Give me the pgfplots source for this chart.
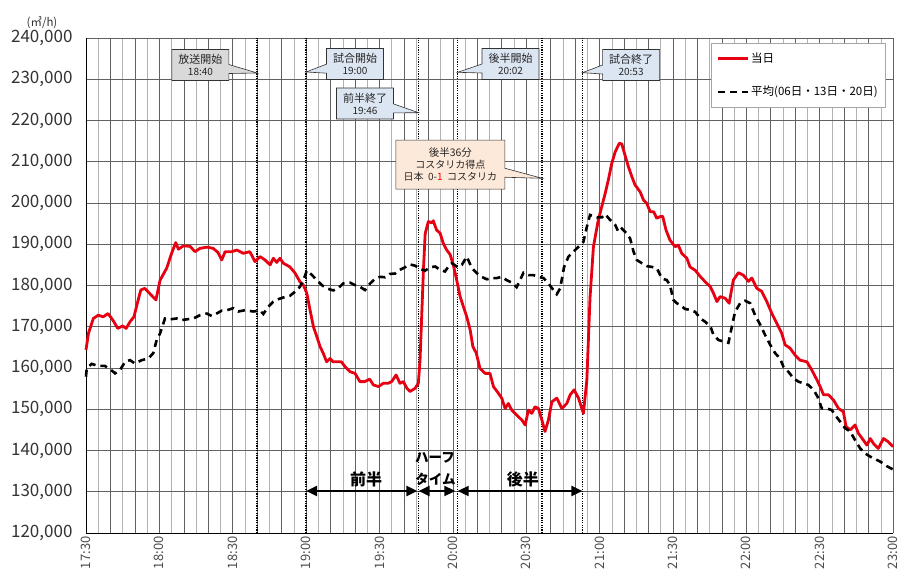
\documentclass[border=0pt]{standalone}
\usepackage{fontspec}
\setmainfont{Noto Sans CJK JP}
\usepackage{pgfplots}
\pgfplotsset{compat=1.18}
\usetikzlibrary{shapes.callouts,arrows.meta}
\definecolor{dred}{RGB}{230,0,18}
\definecolor{boxgray}{RGB}{217,217,217}
\definecolor{boxblue}{RGB}{220,230,242}
\definecolor{boxpeach}{RGB}{253,233,217}
\begin{document}
\begin{tikzpicture}
\begin{axis}[
  scale only axis, width=807pt, height=495pt,
  xmin=0, xmax=330, ymin=120000, ymax=240000,
  clip=false,
  axis x line=bottom, axis y line=left,
  axis line style={-, black, line width=0.8pt},
  xtick={0,10,...,330},
  xticklabels={17:30,,,18:00,,,18:30,,,19:00,,,19:30,,,20:00,,,20:30,,,21:00,,,21:30,,,22:00,,,22:30,,,23:00},
  minor x tick num=1,
  ytick={120000,130000,140000,150000,160000,170000,180000,190000,200000,210000,220000,230000,240000},
  major tick length=0pt, minor tick length=0pt,
  grid=both,
  major grid style={black!62, line width=0.5pt},
  minor grid style={black!30, line width=0.5pt},
  scaled y ticks=false,
  yticklabel style={font=\fontsize{17}{17}\selectfont, text=black!80, xshift=-10pt,
    /pgf/number format/.cd, fixed, 1000 sep={,}, assume math mode=true},
  xticklabel style={rotate=90, anchor=east, font=\fontsize{13}{13}\selectfont, text=black!70},
  extra x ticks={70,90,136,152,186.5,203},
  extra x tick labels={},
  extra x tick style={grid=major, major grid style={black, line width=1.4pt, dash pattern=on 1.2pt off 1.2pt}},
  legend style={at={(0.990,0.990)}, anchor=north east, draw=black!35, fill=white,
    font=\fontsize{11.5}{12}\selectfont, row sep=18pt, inner xsep=5pt, inner ysep=8pt,
    cells={anchor=west}},
  legend image code/.code={\draw[#1] (0pt,0pt) -- (30pt,0pt);},
]
\addplot[dred, line width=2.8pt, line join=round] coordinates {
(0,164400)(1,168400)(3,172000)(5,172800)(7,172400)(9,173200)(11,171600)(13,169600)(15,170200)(16.4,169600)
(18,171200)(19.6,172400)(21,175700)(22.4,178900)(24,179300)(26,178100)(28.6,176500)(30.3,181300)(33,184200)(35,187800)
(36.7,190400)(37.8,188800)(39.8,189600)(42.5,189500)(44.6,188200)(46.6,189000)(49.4,189300)(52,189000)(54,188000)(55.5,186200)
(56.9,188200)(59.6,188200)(61.7,188600)(64.3,187800)(67,188200)(69.1,185800)(71.2,187000)(73.2,186200)(75.3,185000)(76.6,186600)
(78,185600)(79.3,186600)(80.7,185400)(83.4,184500)(85.5,183000)(87.5,180900)(88.9,180100)(90.3,178100)(91.6,174100)(93,170000)
(94.4,167600)(95.7,165200)(97,163600)(98.4,161500)(99.8,162300)(101,161500)(103.1,161500)(104.4,161500)(106,160300)(108,159100)
(110,158700)(112,156700)(114,156700)(116,157300)(117.5,155900)(119.6,155500)(121.6,156300)(123.6,156300)(125,156700)(126.8,158300)
(128.4,156300)(129.8,156700)(131.2,155100)(132.5,154300)(134.6,155100)(135.9,156300)(136.6,161900)(137.3,173000)(138,184000)(138.7,192600)
(140,195500)(141.4,195200)(142,195700)(143.4,193400)(144.8,192700)(146.1,190200)(147.5,188600)(148.9,187500)(150.2,185000)(151.6,181300)
(153,177300)(154.3,174900)(155.7,172400)(157.1,169200)(158.2,165200)(159.6,163600)(161.1,159900)(163.2,158700)(165.2,158700)(166.6,155500)
(168.6,153900)(170,152700)(171.4,150200)(172.7,151400)(174.1,149800)(176.1,148600)(178.2,147400)(179.6,146200)(180.9,149800)(182.3,149000)
(183.6,150600)(185,150200)(186.4,147400)(187.7,144600)(189.1,147400)(190.5,151800)(192.5,152700)(194.6,150200)(196.6,151400)(198,153500)
(199.6,154700)(201.4,152700)(203.4,149000)(204.8,157000)(206.1,177000)(207.5,189400)(209.5,195900)(210.9,199100)(212.3,202300)(213.6,205600)
(215,209600)(216.4,212400)(218.1,214500)(219.1,214300)(220.4,211600)(221.8,208800)(223.2,206400)(224.5,204400)(226.6,202700)(228,200700)
(229.3,199900)(230.7,197900)(232.1,197900)(233.4,196300)(234.8,196700)(235.8,196800)(237.2,193400)(238.8,191000)(240.9,189400)(242.2,189800)
(243.6,187800)(245.7,186600)(247,184500)(249.1,183700)(251.3,182100)(253.2,180900)(255.3,179700)(256.6,178100)(258,176100)(259.3,177300)
(261.4,176900)(263,175700)(264.7,181300)(266.8,183100)(268.8,182500)(270.9,181000)(272.3,181800)(274.3,179300)(276.3,178600)(278.4,176100)
(280.4,173300)(282.4,170900)(284.5,168400)(285.9,165600)(287.9,164800)(290,163100)(292,161900)(294.8,161500)(296.8,159500)(298.9,157100)
(300.2,155500)(301.6,153500)(303.6,153500)(305.7,152200)(307.7,150200)(309.7,149400)(310.8,145800)(312.5,145000)(314.5,146200)(315.8,144200)
(317.9,142500)(319.3,141300)(320.7,142900)(322,141700)(324,140500)(326.1,142900)(328.1,142100)(330,140900)
};
\addlegendentry{当日}
\addplot[black, line width=2.6pt, dash pattern=on 7pt off 5pt] coordinates {
(0,157900)(0.3,159900)(2.3,161000)(5,160500)(7.7,160500)(9.7,159800)(11.9,158700)(13.9,159500)(16,161500)(18,161900)
(20,161100)(22.8,161900)(25.5,162300)(27.5,163600)(28.9,166800)(30.3,168400)(32.3,172000)(34.4,171800)(37.1,172000)(39.1,171600)
(41.2,171800)(43.9,172000)(46.6,172800)(49.4,173200)(51.4,172600)(53.4,173200)(55.5,173900)(57.6,174000)(60.2,174500)(62.3,173700)
(65,174000)(68.4,173700)(71.2,173900)(72.5,173100)(74.6,174900)(76.6,176100)(78.7,176700)(80.7,177100)(83.4,177500)(85.5,178500)
(87.5,179700)(88.9,181300)(90.3,183600)(92.3,182600)(94.4,181300)(96.4,180100)(98.4,179300)(101.1,178800)(103.1,179300)(105.2,180500)
(107.9,180700)(110,180100)(112,179700)(114.1,178900)(116.2,180500)(118.2,181600)(120.2,182100)(122.3,182000)(124.3,182800)(126.4,182900)
(128.4,183800)(130.4,184400)(132.5,185100)(134.6,184800)(136.6,184000)(138.7,183600)(140.7,184400)(142.8,184600)(144.8,183800)(146.8,183400)
(148.2,184600)(149.6,185400)(151.6,184600)(153.7,185000)(155.7,187000)(157.8,184200)(159.8,183000)(161.8,182100)(163.9,181500)(165.9,181800)
(168,181800)(170,182100)(172,181300)(174.1,180700)(176.1,179600)(177.5,181300)(178.9,183100)(180.9,182500)(183,182500)(185,182100)
(187.1,181800)(189.1,180500)(191.1,178900)(192.5,177900)(193.9,179300)(195.5,184500)(197.3,187000)(199.3,188200)(201.4,189400)(203.4,190600)
(204.8,194200)(206.1,197100)(208.9,196500)(210.9,196500)(212.3,197300)(214.3,195900)(216.4,194700)(217.7,193000)(219.1,193800)(221.1,192600)
(222.5,191400)(223.9,188200)(225.2,186200)(227.3,185400)(229.3,184700)(231.4,184500)(233.4,184200)(235.5,181700)(237.5,181300)(238.8,180100)
(240.2,176500)(241.6,175700)(242.9,175300)(245,174300)(247,174100)(249.1,173600)(251.3,172000)(253.2,171200)(255.4,170000)(256.6,168000)
(258.6,166800)(260.7,166400)(262.7,166100)(264.1,170000)(265.4,173600)(267.5,175700)(269.5,176300)(271.6,175700)(273.6,172800)(275.7,170500)
(277.7,168000)(279.8,165600)(281.8,163600)(283.8,162300)(285.2,160300)(287.2,159100)(289.3,157500)(291.3,156700)(293.3,156300)(295.4,155900)
(297.5,154700)(299.1,153100)(300.9,150200)(302.9,150200)(305,149800)(306.3,148600)(308.4,147000)(310.4,145400)(312.5,144600)(314.5,142500)
(316.6,140500)(318.6,139300)(320.7,138500)(322.7,137900)(324.8,137300)(327.5,136200)(330,135400)
};
\addlegendentry{平均(06日・13日・20日)}

% callouts
\tikzset{cbox/.style={rectangle callout, draw=black!80, line width=0.6pt, minimum width=57pt, minimum height=31pt,
  inner sep=2pt, align=center, callout pointer width=9pt, text=black!85}}
\node[cbox, fill=boxgray, callout absolute pointer={(axis cs:70,231513)}] at (axis cs:46.8,233450)
  {\fontsize{11}{15}\selectfont 放送開始\\\fontsize{10}{12}\selectfont 18:40};
\node[cbox, fill=boxblue, callout absolute pointer={(axis cs:90,231756)}] at (axis cs:110.0,233690)
  {\fontsize{11}{15}\selectfont 試合開始\\\fontsize{10}{12}\selectfont 19:00};
\node[cbox, fill=boxblue, callout absolute pointer={(axis cs:136,221890)}] at (axis cs:114.1,224120)
  {\fontsize{11}{15}\selectfont 前半終了\\\fontsize{10}{12}\selectfont 19:46};
\node[cbox, fill=boxblue, callout absolute pointer={(axis cs:152,231680)}] at (axis cs:173.6,233690)
  {\fontsize{11}{15}\selectfont 後半開始\\\fontsize{10}{12}\selectfont 20:02};
\node[cbox, fill=boxblue, callout absolute pointer={(axis cs:203,231590)}] at (axis cs:222.9,233450)
  {\fontsize{11}{15}\selectfont 試合終了\\\fontsize{10}{12}\selectfont 20:53};
\node[cbox, fill=boxpeach, minimum width=109pt, minimum height=49pt, callout absolute pointer={(axis cs:186.5,205990)}] at (axis cs:149.0,209290)
  {\fontsize{10.5}{15}\selectfont 後半36分\\ コスタリカ得点\\ 日本\ \ 0-{\color{red}1}\ \ コスタリカ};

% arrows
\draw[{Triangle[length=11pt,width=10pt]}-{Triangle[length=11pt,width=10pt]}, line width=2.2pt] (axis cs:90,130180) -- (axis cs:135.5,130180);
\draw[{Triangle[length=11pt,width=10pt]}-{Triangle[length=11pt,width=10pt]}, line width=2.2pt] (axis cs:136,130180) -- (axis cs:151,130180);
\draw[{Triangle[length=11pt,width=10pt]}-{Triangle[length=11pt,width=10pt]}, line width=2.2pt] (axis cs:152,130180) -- (axis cs:203,130180);
\node[font=\fontsize{16}{16}\selectfont\bfseries] at (axis cs:114.5,133100) {前半};
\node[font=\fontsize{16}{16}\selectfont\bfseries] at (axis cs:178.6,133100) {後半};
\node[font=\fontsize{13.5}{14}\selectfont\bfseries] at (axis cs:142.7,138300) {ハーフ};
\node[font=\fontsize{13.5}{14}\selectfont\bfseries] at (axis cs:142.9,133100) {タイム};
\end{axis}
\node[font=\fontsize{11.5}{12}\selectfont, text=black!80] at (-44pt,510pt) {(㎥/h)};
\pgfresetboundingbox
\path[use as bounding box] (-86pt,-47pt) rectangle (821pt,533pt);
\end{tikzpicture}
\end{document}
